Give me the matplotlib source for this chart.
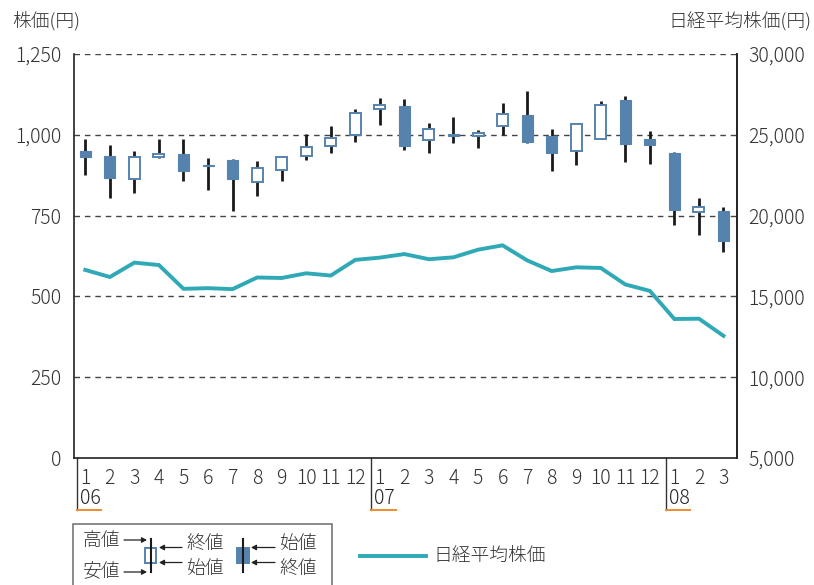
import matplotlib
matplotlib.use("Agg")
import matplotlib.pyplot as plt
from matplotlib.patches import Rectangle, FancyArrowPatch
from matplotlib.lines import Line2D
import matplotlib.transforms as mtransforms

plt.rcParams['font.family'] = ['Noto Sans CJK JP', 'DejaVu Sans']
plt.rcParams['font.weight'] = 'light'

# monthly candles, Jan 2006 - Mar 2008 (yen)
months = ["1", "2", "3", "4", "5", "6", "7", "8", "9", "10", "11", "12",
          "1", "2", "3", "4", "5", "6", "7", "8", "9", "10", "11", "12",
          "1", "2", "3"]
years = ["06", "07", "08"]
opens = [951, 935, 863, 930, 942, 907, 922, 853, 892, 934, 964, 999,
         1081, 1090, 985, 1004, 996, 1028, 1062, 997, 951, 987, 1108, 987,
         944, 762, 765]
closes = [930, 865, 932, 940, 887, 902, 862, 897, 932, 961, 989, 1066,
          1092, 966, 1018, 995, 1006, 1064, 978, 945, 1033, 1092, 971, 968,
          767, 777, 670]
highs = [987, 968, 950, 987, 987, 927, 924, 919, 934, 1003, 1026, 1079,
         1113, 1110, 1036, 1056, 1015, 1099, 1136, 1018, 1033, 1105, 1120, 1012,
         948, 806, 777]
lows = [876, 804, 820, 927, 858, 829, 765, 810, 858, 922, 945, 978,
        1030, 953, 945, 974, 958, 999, 976, 887, 906, 987, 917, 910,
        722, 690, 638]
# Nikkei 225 month-end (yen)
nikkei = [16640, 16200, 17090, 16940, 15470, 15510, 15450, 16170, 16140, 16430,
          16290, 17260, 17400, 17620, 17300, 17420, 17890, 18160, 17230, 16570,
          16800, 16760, 15740, 15340, 13600, 13620, 12560]

BLUE = "#5683ad"
TEAL = "#2fa9b6"
TXT = "#333333"
FS = 14
W, H = 814, 585

fig = plt.figure(figsize=(W / 100, H / 100), dpi=100)
ax = fig.add_axes([74 / W, 1 - 458 / H, (737 - 74) / W, (458 - 54) / H])

x = list(range(len(months)))

# candles
ax.vlines(x, lows, highs, color="#1a1a1a", linewidth=2.0, zorder=2)
for i in x:
    o, c = opens[i], closes[i]
    up = c >= o
    ax.bar(i, abs(c - o), bottom=min(o, c), width=0.45,
           facecolor="white" if up else BLUE, edgecolor=BLUE,
           linewidth=1.4 if up else 0.8, zorder=3)

ax.set_xlim(-0.46, 26.55)
ax.set_ylim(0, 1250)
ax.set_yticks(range(0, 1251, 250))
ax.set_yticklabels([f"{v:,}" for v in range(0, 1251, 250)])
ax.set_xticks(x)
ax.set_xticklabels(months)
for v in range(250, 1251, 250):
    ax.axhline(v, color="#444444", linewidth=1.0, linestyle=(0, (4, 3.5)), zorder=1)

ax.spines["top"].set_visible(False)
for s in ["left", "right", "bottom"]:
    ax.spines[s].set_color("#222222")
    ax.spines[s].set_linewidth(1.2)
ax.tick_params(axis="both", length=0, colors=TXT, labelsize=FS)
ax.tick_params(axis="y", pad=9)
ax.tick_params(axis="x", pad=7)

# Nikkei on the right axis
ax2 = ax.twinx()
ax2.plot(x, nikkei, color=TEAL, linewidth=2.8, solid_joinstyle="miter", zorder=4)
ax2.set_ylim(5000, 30000)
ax2.set_yticks(range(5000, 30001, 5000))
ax2.set_yticklabels([f"{v:,}" for v in range(5000, 30001, 5000)])
ax2.tick_params(axis="y", length=0, colors=TXT, labelsize=FS, pad=8)
for s in ["top", "left", "bottom"]:
    ax2.spines[s].set_visible(False)
ax2.spines["right"].set_color("#222222")
ax2.spines["right"].set_linewidth(1.2)

# year markers under the month labels
trans = mtransforms.blended_transform_factory(ax.transData, ax.transAxes)
for k, yr in enumerate(years):
    xs = 12 * k - 0.35
    ax.add_line(Line2D([xs, xs], [0, -0.128], transform=trans, color="#333333",
                       linewidth=1.0, clip_on=False))
    ax.add_line(Line2D([xs, xs + 1.0], [-0.128, -0.128], transform=trans,
                       color="#f08a30", linewidth=1.4, clip_on=False))
    ax.text(xs + 0.12, -0.101, yr, transform=trans, ha="left", va="center",
            fontsize=FS, color="#222222")

# axis titles
fig.text(12 / W, 1 - 21 / H, "株価(円)", ha="left", va="center", fontsize=13.5, color=TXT)
fig.text(811 / W, 1 - 21 / H, "日経平均株価(円)", ha="right", va="center", fontsize=13.5, color=TXT)


def px(px_x, px_y):
    return px_x / W, 1 - px_y / H


# legend box
bx, by = px(73, 524)
fig.add_artist(Rectangle((bx, -0.05), (332 - 73) / W, by + 0.05, transform=fig.transFigure,
                         facecolor="none", edgecolor="#777777", linewidth=1.2))

for cx, fill in [(150.7, "white"), (242.7, BLUE)]:
    fig.add_artist(Line2D(*zip(px(cx, 539), px(cx, 572)), transform=fig.transFigure,
                          color="#1a1a1a", linewidth=1.5))
    x0, y0 = px(cx - 5.8, 562.7)
    fig.add_artist(Rectangle((x0, y0), 11.6 / W, 14.7 / H, transform=fig.transFigure,
                             facecolor=fill, edgecolor=BLUE, linewidth=1.4))


def arrow(x_from, x_to, y):
    fig.add_artist(FancyArrowPatch(px(x_from, y), px(x_to, y), transform=fig.transFigure,
                                   arrowstyle="-|>,head_length=3,head_width=1.6",
                                   color="#222222", linewidth=0.9,
                                   shrinkA=0, shrinkB=0))


arrow(124, 147, 540)
arrow(124, 147, 572)
arrow(182, 159, 547.5)
arrow(182, 159, 562.5)
arrow(275, 251, 547.5)
arrow(275, 251, 562.5)

for tx, ty, s in [(83, 541, "高値"), (83, 571, "安値"), (186, 544, "終値"), (186, 569, "始値"),
                  (279, 544, "始値"), (279, 569, "終値")]:
    fig.text(*px(tx, ty), s, ha="left", va="center", fontsize=13.5, color=TXT)

fig.add_artist(Line2D(*zip(px(360, 555.7), px(426, 555.7)), transform=fig.transFigure,
                      color=TEAL, linewidth=2.8))
fig.text(*px(433, 556), "日経平均株価", ha="left", va="center", fontsize=13.5, color=TXT)

fig.savefig("out.png", dpi=100)
